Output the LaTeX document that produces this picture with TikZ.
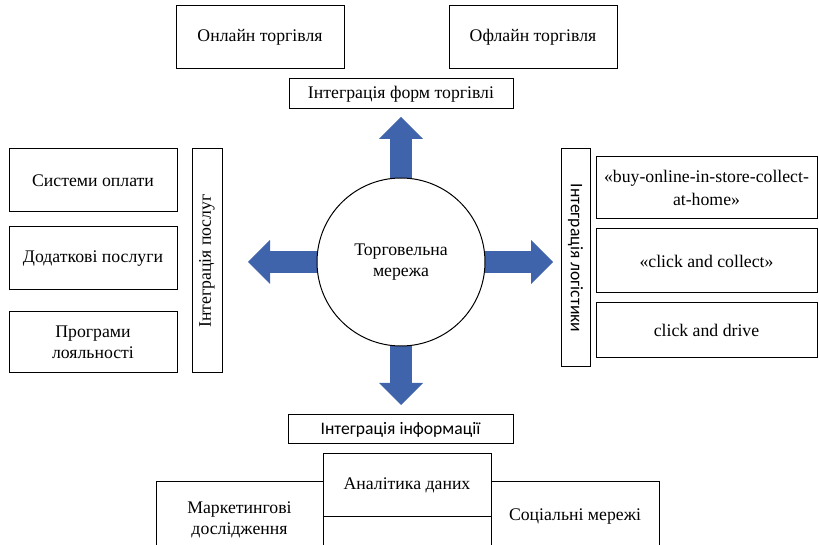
\documentclass[tikz,border=0pt]{standalone}
\usepackage{fontspec}
\setmainfont{Liberation Serif}
\newfontfamily\labelserif{Liberation Serif}
\newfontfamily\labelsans{Carlito}
\usetikzlibrary{arrows.meta,backgrounds}
\definecolor{arrowblue}{RGB}{64,100,172}

% box given by its corners (x1,y1) (x2,y2) in pixel units
\newcommand\rectnode[7][]{%
  \node[box,#1,minimum width={(#5-#3)*0.75pt},minimum height={(#6-#4)*0.75pt}]
    (#2) at ({(#3+#5)/2},{(#4+#6)/2}) {#7};}

\begin{document}
\begin{tikzpicture}[x=0.75pt,y=-0.75pt,
  box/.style={draw=black,line width=0.75pt,inner sep=0pt,align=center,
    font=\labelserif\fontsize{13.3}{15.75}\selectfont},
  sanslabel/.style={font=\labelsans\fontsize{13.2}{15}\selectfont},
  hubnode/.style={circle,draw=black,line width=0.75pt,fill=white,inner sep=0pt,
    minimum size=126pt,align=center,font=\labelserif\fontsize{13.3}{15.75}\selectfont},
  blockarrow/.style={arrowblue,line width=16.5pt,
    -{Triangle[width=33pt,length=16.5pt,line width=0pt]}}]
\useasboundingbox (0,0) rectangle (819,545);
\clip (0,0) rectangle (819,545);

% central node
\node[hubnode] (hub) at (401,262) {Торговельна\\мережа};

% forms of trade
\rectnode{online}{176}{6}{344}{69}{Онлайн торгівля}
\rectnode{offline}{449}{6}{617}{69}{Офлайн торгівля}
\rectnode{forms}{289}{79}{513}{109}{Інтеграція форм торгівлі}

% services
\node[box,rotate=90,minimum width=168pt,minimum height=22.5pt]
  (services) at (207,261) {Інтеграція послуг};
\rectnode{pay}{9}{149}{177}{212}{Системи оплати}
\rectnode{extra}{9}{227}{177}{290}{Додаткові послуги}
\rectnode{loyal}{9}{312}{177}{373}{Програми\\лояльності}

% logistics
\node[box,sanslabel,rotate=-90,minimum width=163.5pt,minimum height=21.75pt]
  (logistics) at (575.5,258) {Інтеграція логістики};
\rectnode{bopis}{596}{157}{817}{219}{«buy-online-in-store-collect-\\[2pt]at-home»}
\rectnode{collect}{596}{229}{817}{293}{«click and collect»}
\rectnode{drive}{596}{303}{817}{358}{click and drive}

% information
\rectnode[sanslabel]{info}{288}{415}{513}{444}{Інтеграція інформації}
\rectnode{market}{156}{482}{323}{558}{Маркетингові\\дослідження}
\rectnode{social}{491}{482}{659}{552}{Соціальні мережі}
\rectnode{analytics}{323}{454}{491}{517}{Аналітика даних}
\rectnode{blank}{323}{517}{491}{558}{}

% block arrows from the centre
\coordinate (tipN) at (401,117);
\coordinate (tipS) at (401,405);
\coordinate (tipW) at (248,262);
\coordinate (tipE) at (553,262);
\begin{scope}[on background layer]
  \draw[blockarrow] (hub.center) -- (tipN);
  \draw[blockarrow] (hub.center) -- (tipS);
  \draw[blockarrow] (hub.center) -- (tipW);
  \draw[blockarrow] (hub.center) -- (tipE);
\end{scope}
\end{tikzpicture}
\end{document}
